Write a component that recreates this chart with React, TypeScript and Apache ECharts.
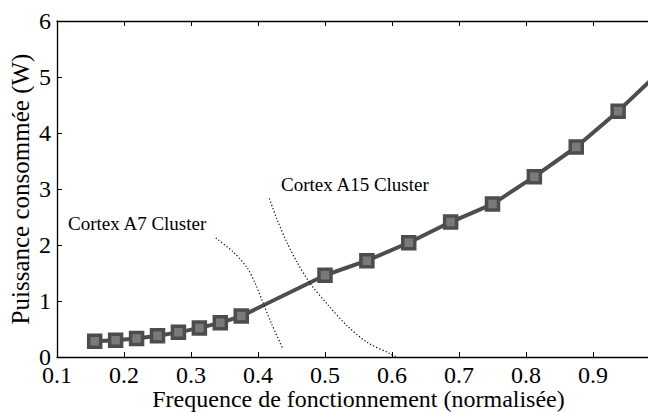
import React, { useEffect, useRef } from "react";
import * as echarts from "echarts";

const freq = [0.15625, 0.1875, 0.21875, 0.25, 0.28125, 0.3125, 0.34375, 0.375, 0.5, 0.5625, 0.625, 0.6875, 0.75, 0.8125, 0.875, 0.9375, 1.0];
const power = [0.28, 0.3, 0.33, 0.38, 0.44, 0.52, 0.61, 0.73, 1.46, 1.72, 2.04, 2.41, 2.73, 3.22, 3.75, 4.39, 5.1];

const a7CurveX = [0.337, 0.363, 0.383, 0.396, 0.408, 0.42, 0.437];
const a7CurveY = [2.125, 1.875, 1.607, 1.31, 0.954, 0.596, 0.15];
const a15CurveX = [0.417, 0.428, 0.443, 0.458, 0.478, 0.503, 0.532, 0.562, 0.597, 0.607];
const a15CurveY = [2.83, 2.47, 2.05, 1.7, 1.31, 0.95, 0.57, 0.27, 0.06, 0.0];

const xTitle = "Frequence de fonctionnement (normalisée)";
const yTitle = "Puissance consommée (W)";
const labelA7 = "Cortex A7 Cluster";
const labelA15 = "Cortex A15 Cluster";

const FONT = "Liberation Serif, DejaVu Serif, serif";

export default function App() {
  const ref = useRef<HTMLDivElement>(null);
  useEffect(() => {
    if (!ref.current) return;
    const chart = echarts.init(ref.current, null, { renderer: "svg" });
    const axisLine = { show: true, lineStyle: { color: "#000", width: 1.3 } };
    const axisTick = { show: true, inside: true, length: 5, lineStyle: { color: "#000", width: 1 } };
    chart.setOption({
      animation: false,
      backgroundColor: "#fff",
      textStyle: { fontFamily: FONT },
      grid: { left: 57, right: 0, top: 21, bottom: 55, containLabel: false, outerBoundsMode: "none" },
      xAxis: [
        {
          type: "value",
          min: 0.1,
          max: 1.0,
          interval: 0.1,
          position: "bottom",
          axisLine,
          axisTick,
          splitLine: { show: false },
          axisLabel: {
            fontSize: 24,
            color: "#000",
            fontFamily: FONT,
            margin: 6,
            showMaxLabel: false,
            hideOverlap: false,
            formatter: (v: number) => v.toFixed(1),
          },
          name: xTitle,
          nameLocation: "middle",
          nameGap: 30,
          nameMoveOverlap: false,
          nameTextStyle: { fontSize: 24, color: "#000", fontFamily: FONT },
        },
        {
          type: "value",
          min: 0.1,
          max: 1.0,
          interval: 0.1,
          position: "top",
          axisLine,
          axisTick,
          splitLine: { show: false },
          axisLabel: { show: false },
        },
      ],
      yAxis: [
        {
          type: "value",
          min: 0,
          max: 6,
          interval: 1,
          axisLine,
          axisTick,
          splitLine: { show: false },
          axisLabel: { fontSize: 24, color: "#000", fontFamily: FONT, margin: 6, hideOverlap: false },
          name: yTitle,
          nameLocation: "middle",
          nameGap: 24,
          nameMoveOverlap: false,
          nameRotate: 90,
          nameTextStyle: { fontSize: 25, color: "#000", fontFamily: FONT },
        },
      ],
      series: [
        {
          type: "line",
          data: a7CurveX.map((x, i) => [x, a7CurveY[i]]),
          symbol: "none",
          smooth: 0.3,
          silent: true,
          z: 3,
          lineStyle: { color: "#000", width: 1.2, type: [1.2, 2.2] },
        },
        {
          type: "line",
          data: a15CurveX.map((x, i) => [x, a15CurveY[i]]),
          symbol: "none",
          smooth: 0.3,
          silent: true,
          z: 3,
          lineStyle: { color: "#000", width: 1.2, type: [1.2, 2.2] },
        },
        {
          type: "line",
          data: freq.map((f, i) => [f, power[i]]),
          symbol: "rect",
          symbolSize: 12,
          showAllSymbol: true,
          z: 2,
          lineStyle: { color: "#4d4d4d", width: 4 },
          itemStyle: { color: "#7a7a7a", borderColor: "#4d4d4d", borderWidth: 3.5 },
        },
      ],
      graphic: [
        {
          type: "text",
          left: 68,
          top: 214,
          style: { text: labelA7, font: `19px ${FONT}`, fill: "#000" },
        },
        {
          type: "text",
          left: 281,
          top: 175,
          style: { text: labelA15, font: `19px ${FONT}`, fill: "#000" },
        },
      ],
    });
    return () => chart.dispose();
  }, []);
  return (
    <div
      ref={ref}
      style={{ position: "fixed", left: 0, top: 0, width: 660, height: 412 }}
    />
  );
}
